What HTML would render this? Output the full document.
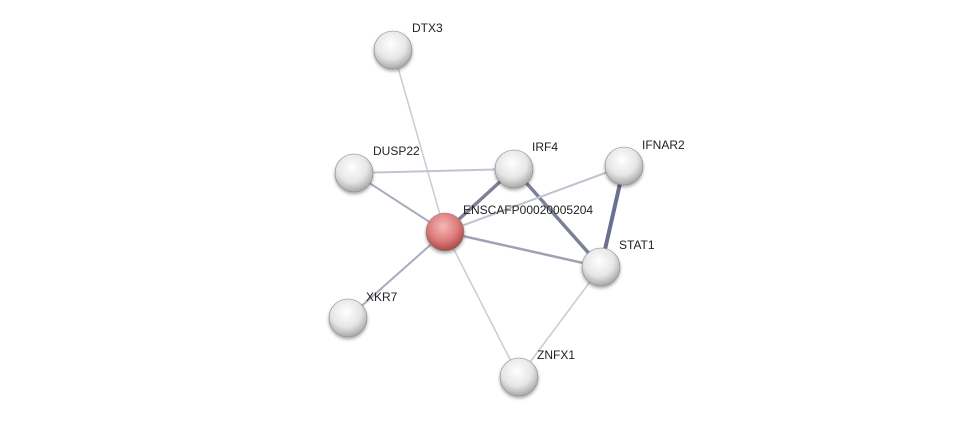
<!DOCTYPE html>
<html><head><meta charset="utf-8"><style>
html,body{margin:0;padding:0;background:#fff;width:976px;height:423px;overflow:hidden}
text{font-family:"Liberation Sans",sans-serif;font-size:12px;fill:#222}
</style></head><body>
<svg width="976" height="423" viewBox="0 0 976 423" xmlns="http://www.w3.org/2000/svg">
<defs>
<radialGradient id="g" cx="45%" cy="35%" r="65%">
<stop offset="0" stop-color="#ffffff"/><stop offset="0.6" stop-color="#e6e6e6"/><stop offset="1" stop-color="#a8a8a8"/>
</radialGradient>
<radialGradient id="r" cx="45%" cy="35%" r="65%">
<stop offset="0" stop-color="#f4b8b8"/><stop offset="0.6" stop-color="#de7a7a"/><stop offset="1" stop-color="#a84848"/>
</radialGradient>
<filter id="s" x="-30%" y="-30%" width="160%" height="160%"><feDropShadow dx="0" dy="2" stdDeviation="1.5" flood-color="#000" flood-opacity="0.35"/></filter>
</defs>
<g stroke-linecap="round">
<line x1="393" y1="50" x2="445" y2="232" stroke="#c8ccd6" stroke-width="1.5"/>
<line x1="354" y1="173" x2="445" y2="232" stroke="#a8acbe" stroke-width="2"/>
<line x1="354" y1="173" x2="514" y2="169" stroke="#c0c3d0" stroke-width="2"/>
<line x1="514" y1="169" x2="445" y2="232" stroke="#7c8196" stroke-width="3.5"/>
<line x1="514" y1="169" x2="601" y2="267" stroke="#7c8196" stroke-width="3.5"/>
<line x1="624" y1="166" x2="601" y2="267" stroke="#6b7090" stroke-width="4"/>
<line x1="624" y1="166" x2="445" y2="232" stroke="#c0c3d0" stroke-width="2"/>
<line x1="445" y1="232" x2="601" y2="267" stroke="#9ea2b6" stroke-width="2.5"/>
<line x1="445" y1="232" x2="348" y2="318" stroke="#a8acbe" stroke-width="2"/>
<line x1="445" y1="232" x2="519" y2="377" stroke="#c8ccd6" stroke-width="1.5"/>
<line x1="601" y1="267" x2="519" y2="377" stroke="#c8ccd6" stroke-width="1.5"/>
</g>
<g filter="url(#s)" stroke="#888" stroke-width="0.6">
<circle cx="393" cy="50" r="19" fill="url(#g)"/>
<circle cx="354" cy="173" r="19" fill="url(#g)"/>
<circle cx="514" cy="169" r="19" fill="url(#g)"/>
<circle cx="624" cy="166" r="19" fill="url(#g)"/>
<circle cx="601" cy="267" r="19" fill="url(#g)"/>
<circle cx="348" cy="318" r="19" fill="url(#g)"/>
<circle cx="519" cy="377" r="19" fill="url(#g)"/>
<circle cx="445" cy="232" r="19" fill="url(#r)"/>
</g>
<text x="412" y="32">DTX3</text>
<text x="373" y="155">DUSP22</text>
<text x="532" y="151">IRF4</text>
<text x="642" y="149">IFNAR2</text>
<text x="463" y="214">ENSCAFP00020005204</text>
<text x="619" y="249">STAT1</text>
<text x="366" y="301">XKR7</text>
<text x="537" y="359">ZNFX1</text>
</svg>
</body></html>
